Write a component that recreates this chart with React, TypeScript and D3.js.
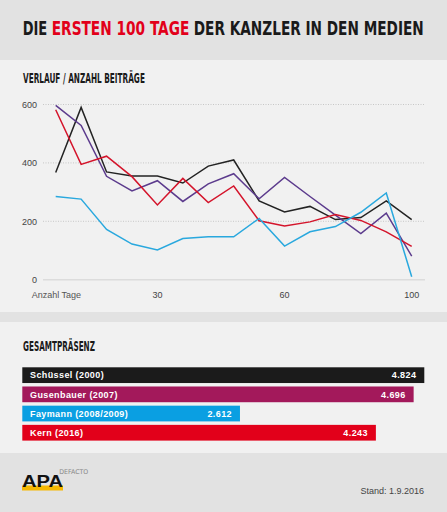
import React, { useLayoutEffect, useRef, useState } from 'react';
import * as d3 from 'd3';

// Zeitpunkte (Index), Beschriftung an ausgewählten Stellen
const zeitpunkte = [0, 1, 2, 3, 4, 5, 6, 7, 8, 9, 10, 11, 12, 13, 14];
const xTicks = [
  { i: 4, label: '30' },
  { i: 9, label: '60' },
  { i: 14, label: '100' },
];
const yTicks = [0, 200, 400, 600];

// Anzahl Beiträge je Kanzler
const schuessel = [367, 590, 369, 355, 355, 331, 389, 410, 270, 232, 251, 206, 213, 270, 206];
const gusenbauer = [597, 528, 354, 304, 339, 268, 328, 363, 277, 350, 285, 221, 158, 228, 81];
const kern = [582, 395, 423, 353, 256, 347, 264, 321, 202, 184, 198, 223, 203, 164, 114];
const faymann = [285, 276, 172, 122, 102, 141, 147, 147, 210, 115, 164, 182, 231, 297, 10];

// Gesamtpräsenz
const namen = ['Schüssel (2000)', 'Gusenbauer (2007)', 'Faymann (2008/2009)', 'Kern (2016)'];
const gesamt = [4.824, 4.696, 2.612, 4.243];
const gesamtLabels = ['4.824', '4.696', '2.612', '4.243'];

const barColors = ['#1b1b1b', '#a3195b', '#0a9fe2', '#e2001a'];

const lines = [
  { values: schuessel, color: '#232323' },
  { values: gusenbauer, color: '#5c3b8d' },
  { values: kern, color: '#d4142b' },
  { values: faymann, color: '#29a8de' },
];

// Titel in drei Teilen
const titel = [
  { text: 'DIE', x: 22.7, w: 24.6, color: '#1a1a1a' },
  { text: 'ERSTEN 100 TAGE', x: 51.7, w: 137.6, color: '#e2001a' },
  { text: 'DER KANZLER IN DEN MEDIEN', x: 193.7, w: 230.3, color: '#1a1a1a' },
];

const cond = '"DejaVu Sans Condensed", "DejaVu Sans", sans-serif';
const sans = '"Liberation Sans", Arial, sans-serif';

// condensed text squeezed horizontally to a given width
const FitText = ({ x, y, w, size, fill, weight = 'bold', children }: any) => {
  const ref = useRef<SVGTextElement>(null);
  const [sx, setSx] = useState(1);
  useLayoutEffect(() => {
    if (ref.current) {
      const len = ref.current.getComputedTextLength();
      if (len > 0) setSx(w / len);
    }
  }, [w]);
  return (
    <text
      ref={ref}
      transform={`translate(${x},${y}) scale(${sx},1)`}
      fontFamily={cond}
      fontWeight={weight}
      fontSize={size}
      fill={fill}
    >
      {children}
    </text>
  );
};

const App = () => {
  const x = d3.scalePoint<number>().domain(zeitpunkte).range([55.7, 411.7]);
  const y = d3.scaleLinear().domain([0, 600]).range([279.7, 104.5]);
  const line = d3
    .line<number>()
    .x((d, i) => x(i) as number)
    .y((d) => y(d));

  const xb = d3.scaleLinear().domain([0, 4.824]).range([22.3, 424.3]);
  const yb = d3.scaleBand<string>().domain(namen).range([367.3, 440.6]).paddingInner(0.18);

  return (
    <svg
      width={447}
      height={512}
      style={{ position: 'absolute', left: 0, top: 0 }}
      xmlns="http://www.w3.org/2000/svg"
    >
      <rect x={0} y={0} width={447} height={512} fill="#e2e2e2" />
      <rect x={0} y={60} width={447} height={252} fill="#f1f1f1" />
      <rect x={0} y={322} width={447} height={131} fill="#f1f1f1" />

      {titel.map((t) => (
        <FitText key={t.text} x={t.x} y={35} w={t.w} size={19.5} fill={t.color}>
          {t.text}
        </FitText>
      ))}

      <FitText x={23} y={83.3} w={122} size={13.5} fill="#1a1a1a">
        VERLAUF / ANZAHL BEITRÄGE
      </FitText>

      {yTicks.map((t) => (
        <g key={t}>
          <line
            x1={43}
            x2={425}
            y1={y(t)}
            y2={y(t)}
            stroke={t === 0 ? '#dcdcdc' : '#bdbdbd'}
            strokeWidth={t === 0 ? 1.5 : 0.8}
            strokeDasharray={t === 0 ? undefined : '1,1.5'}
          />
          <text
            x={37}
            y={y(t) + 3.2}
            textAnchor="end"
            fontFamily={sans}
            fontSize={9}
            fill="#444"
          >
            {t}
          </text>
        </g>
      ))}

      <text x={31.7} y={297.5} fontFamily={sans} fontSize={9} fill="#555">
        Anzahl Tage
      </text>
      {xTicks.map((t) => (
        <text
          key={t.label}
          x={x(t.i)}
          y={297.5}
          textAnchor="middle"
          fontFamily={sans}
          fontSize={9}
          fill="#444"
        >
          {t.label}
        </text>
      ))}

      {lines.map((l, k) => (
        <path
          key={k}
          d={line(l.values) as string}
          fill="none"
          stroke={l.color}
          strokeWidth={1.5}
          strokeLinejoin="miter"
        />
      ))}

      <FitText x={23} y={350.7} w={72} size={13.5} fill="#1a1a1a">
        GESAMTPRÄSENZ
      </FitText>

      {namen.map((n, i) => {
        const y0 = yb(n) as number;
        const h = yb.bandwidth();
        return (
          <g key={n}>
            <rect x={xb(0)} y={y0} width={xb(gesamt[i]) - xb(0)} height={h} fill={barColors[i]} />
            <text
              x={30}
              y={y0 + h / 2 + 3.2}
              fontFamily={sans}
              fontWeight="bold"
              fontSize={9}
              letterSpacing={0.4}
              fill="#fff"
            >
              {n}
            </text>
            <text
              x={xb(gesamt[i]) - 8}
              y={y0 + h / 2 + 3.2}
              textAnchor="end"
              fontFamily={sans}
              fontWeight="bold"
              fontSize={9}
              letterSpacing={0.4}
              fill="#fff"
            >
              {gesamtLabels[i]}
            </text>
          </g>
        );
      })}

      {/* Logo */}
      <rect x={22} y={485.5} width={41} height={5} fill="#f6b800" />
      <text
        x={22}
        y={486.5}
        fontFamily={sans}
        fontWeight="bold"
        fontSize={17}
        textLength={41}
        lengthAdjust="spacingAndGlyphs"
        fill="#111"
      >
        APA
      </text>
      <FitText x={59.3} y={473.5} w={29} size={6.5} weight="normal" fill="#888">
        DEFACTO
      </FitText>
      <text x={424} y={493.5} textAnchor="end" fontFamily={sans} fontSize={9} fill="#444">
        Stand: 1.9.2016
      </text>
    </svg>
  );
};

export default App;
